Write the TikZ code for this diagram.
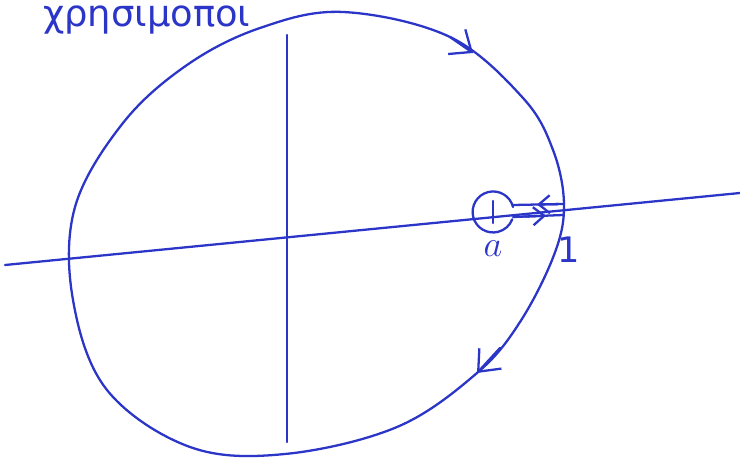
\documentclass[tikz,border=0pt]{standalone}
\usepackage{fontspec}
\setmainfont{DejaVu Sans}
\usetikzlibrary{arrows.meta}
\definecolor{penBlue}{HTML}{2B35C8}

\begin{document}
\begin{tikzpicture}[color=penBlue, x=0.02cm, y=-0.02cm, line width=1.3pt,
    line cap=round, line join=round,
    >={Straight Barb[length=3.6mm,width=6mm]}]

    \useasboundingbox (0,0) rectangle (740,462);

    % title (cut at the top)
    \node[anchor=base west, inner sep=0pt, font=\fontsize{21}{21}\selectfont] (title) at (42,27) {χρησιμοποι};

    % axes
    \coordinate (xl) at (5,265);
    \coordinate (xr) at (740,193);
    \coordinate (yt) at (287,35);
    \coordinate (yb) at (287,442);
    \draw (xl) -- (xr);
    \draw (yt) -- (yb);

    % big circle
    \draw plot[smooth cycle, tension=0.6] coordinates {
        (343,12) (450,37) (523,98) (553,150) (564,205) (554,255)
        (520,322) (477,373) (397,427) (285,454) (190,447) (107,390)
        (73,300) (75,207) (123,123) (187,65) (260,28)};

    % arrows on the big circle
    \draw[->] (450,37) -- (473,53);
    \draw[->] (500,348) -- (477,373);

    % small circle around a
    \coordinate (a) at (493,212);
    \draw (a) ++(20,-5) arc[start angle=-14, end angle=-339, radius=20.5];
    \draw (493,201) -- (493,223);

    % keyhole lines
    \coordinate (ua) at (513,205);
    \coordinate (ub) at (563,204);
    \coordinate (la) at (513,217);
    \coordinate (lb) at (563,215);
    \draw (ua) -- (ub);
    \draw (la) -- (lb);
    \draw[->, >={Straight Barb[length=2.2mm,width=3.6mm]}] (558,204.1) -- (537,204.5);
    \draw[->, >={Straight Barb[length=2.2mm,width=3.6mm]}] (524,216.6) -- (546,215.7);

    % labels
    \node[font=\fontsize{20}{20}\selectfont\itshape] (alabel) at (493,249) {$a$};
    \node[font=\fontsize{20}{20}\selectfont] (onelabel) at (569,250) {1};

\end{tikzpicture}
\end{document}
